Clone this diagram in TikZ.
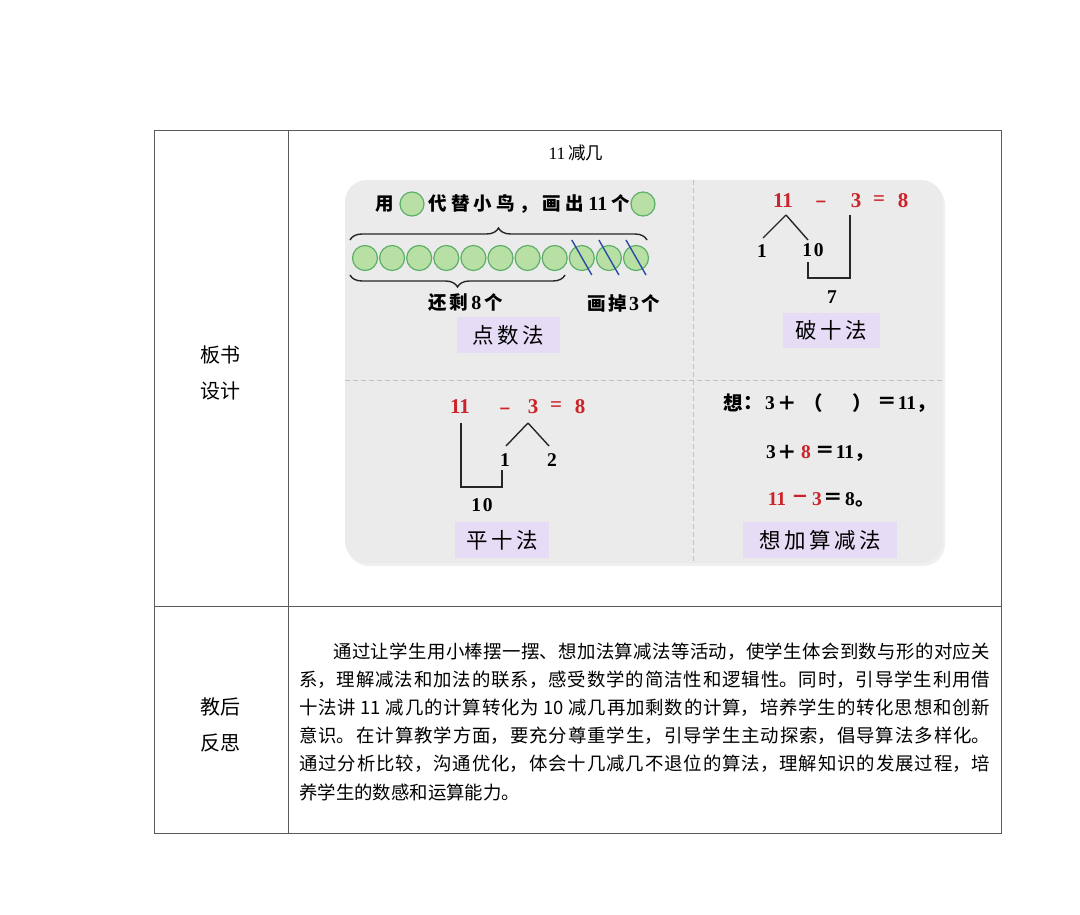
\documentclass[tikz,border=0pt]{standalone}
\usepackage{fontspec}
\setmainfont{Liberation Serif}
\newfontfamily\cjk{Noto Sans CJK SC}
\newfontfamily\dejavu{DejaVu Sans}
\usetikzlibrary{decorations.pathreplacing,calc}
\definecolor{tline}{HTML}{5A5A5A}
\definecolor{panel}{HTML}{EBEBEB}
\definecolor{dashc}{HTML}{C2C2C2}
\definecolor{lav}{HTML}{E6DCF5}
\definecolor{cfill}{HTML}{B9E0A4}
\definecolor{cdraw}{HTML}{5CAF68}
\definecolor{rednum}{HTML}{CC2229}
\definecolor{strike}{HTML}{2A4CA8}
\begin{document}
\begin{tikzpicture}[x=1pt,y=-1pt,
  lbl/.style={inner sep=0pt, font=\cjk\fontsize{20}{24}\selectfont},
  method/.style={fill=lav, inner sep=0pt, font=\cjk\fontsize{21.5}{24}\selectfont},
  num/.style={inner sep=0pt, font=\bfseries\fontsize{21}{24}\selectfont},
  snum/.style={inner sep=0pt, font=\bfseries\fontsize{19.5}{22}\selectfont},
  rnum/.style={num, text=rednum},
  rminus/.style={inner sep=0pt, anchor=base, text=rednum, font=\dejavu\bfseries\fontsize{14.5}{16}\selectfont},
  small/.style={inner sep=0pt, font=\cjk\bfseries\fontsize{18.5}{22}\selectfont},
  eqt/.style={inner sep=0pt, font=\bfseries\fontsize{19.5}{22}\selectfont},
  dot/.style={circle, draw=cdraw, fill=cfill, line width=1.2pt, minimum size=25pt, inner sep=0pt},
  stroke/.style={line width=1.4pt, black!85},
  brc/.style={line width=1.4pt, black!85, decorate, decoration={brace, amplitude=12pt}},
  tab/.style={draw=tline, line width=1pt}]
\useasboundingbox (0,0) rectangle (1080,915);
\fill[white] (0,0) rectangle (1080,915);
% table
\draw[tab] (154,131) rectangle (1001,833);
\draw[tab] (288,131) -- (288,833);
\draw[tab] (154,606) -- (1001,606);
\node[lbl] (l1) at (220,355) {板书};
\node[lbl] (l2) at (220,391) {设计};
\node[lbl] (l3) at (220,707) {教后};
\node[lbl] (l4) at (220,743) {反思};
% title
\node[inner sep=0pt, font=\fontsize{17.5}{20}\selectfont] (title) at (576,153) {11\,{\cjk 减几}};
% panel
\fill[black!6, rounded corners=22pt] (347,183) rectangle (945,566);
\fill[panel, rounded corners=22pt] (345,180) rectangle (943,563);
\draw[dashc, dash pattern=on 5pt off 3pt, line width=1pt] (693,180) -- (693,563);
\draw[dashc, dash pattern=on 5pt off 3pt, line width=1pt] (345,380) -- (943,380);
% --- quadrant 1
\node[small] (q1a) at (385,204) {用};
\node[dot, minimum size=24pt] (q1c1) at (412,204) {};
\node[small, anchor=west] (q1b) at (428,204) {\makebox[202pt]{代\hfill 替\hfill 小\hfill 鸟\hfill ，\hfill 画\hfill 出\hfill{\rmfamily\fontsize{20}{22}\selectfont 11}\hfill 个}};
\node[dot, minimum size=24pt] (q1c2) at (643,204) {};
\foreach \i in {0,...,10} {
  \node[dot] (c\i) at (365+27.1*\i,258) {};
}
\foreach \i in {8,9,10} {
  \draw[strike, line width=1.4pt] ($(c\i)+(-10,-18)$) coordinate (s\i a) -- ($(c\i)+(10,17)$) coordinate (s\i b);
}
\coordinate (b1l) at (350,240); \coordinate (b1r) at (647,240);
\draw[brc] (b1l) -- (b1r);
\coordinate (b2l) at (350,275); \coordinate (b2r) at (565,275);
\draw[brc] (b2r) -- (b2l);
\node[small] (rem) at (465.5,303) {\makebox[75pt]{还\hfill 剩\hfill{\rmfamily\fontsize{20}{22}\selectfont 8}\hfill 个}};
\node[small] (cut) at (623.5,303) {\makebox[73pt]{画\hfill 掉\hfill{\rmfamily\fontsize{20}{22}\selectfont 3}\hfill 个}};
\node[method, minimum width=103pt, minimum height=36pt] (m1) at (508.5,335) {点\,数\,法};
% --- quadrant 2
\node[rnum] (e11) at (783,201) {11};
\node[rminus] (em) at (821,207) {−};
\node[rnum] (e3) at (856,201) {3};
\node[rnum] (eq) at (879,201) {=};
\node[rnum] (e8) at (903,201) {8};
\coordinate (ap2) at (786,215);
\node[snum] (n1) at (762,251) {1};
\node[snum] (n10) at (813,250) {1\kern2pt0};
\draw[stroke] (ap2) -- (763,238);
\draw[stroke] (ap2) -- (808,240);
\draw[stroke] (808,262) -- (808,278) -- (850,278) -- (850,215);
\node[snum] (n7) at (832,297) {7};
\node[method, minimum width=97pt, minimum height=35pt] (m2) at (831.5,330.5) {破\,十\,法};
% --- quadrant 3
\node[rnum] (f11) at (460,407) {11};
\node[rminus] (fm) at (505,413) {−};
\node[rnum] (f3) at (533,407) {3};
\node[rnum] (feq) at (556,407) {=};
\node[rnum] (f8) at (580,407) {8};
\coordinate (ap3) at (528,423);
\draw[stroke] (ap3) -- (506,446);
\draw[stroke] (ap3) -- (549,446);
\node[snum] (g1) at (505,460) {1};
\node[snum] (g2) at (552,460) {2};
\draw[stroke] (461,423) -- (461,487) -- (502,487) -- (502,470);
\node[snum] (g10) at (482,505) {1\kern2pt0};
\node[method, minimum width=94pt, minimum height=36pt] (m3) at (502,540) {平\,十\,法};
% --- quadrant 4
\foreach \x/\t [count=\k] in {733/{\cjk 想}, 770/3, 787/{\cjk ＋}, 887/{\cjk ＝}, 907/11}
  \node[eqt] (ha\k) at (\x,403) {\t};
\node[eqt, anchor=west] (hap1) at (743,403) {\cjk ：};
\node[eqt, anchor=east] (hap2) at (823,403) {\cjk （};
\node[eqt, anchor=west] (hap3) at (852,403) {\cjk ）};
\node[eqt, anchor=base west] (hap4) at (916,409) {\cjk ，};
\foreach \x/\t [count=\k] in {771/3, 787/{\cjk ＋}, 806/\textcolor{rednum}{8}, 825/{\cjk ＝}, 845/11}
  \node[eqt] (hb\k) at (\x,452) {\t};
\node[eqt, anchor=base west] (hbp) at (854,458) {\cjk ，};
\foreach \x/\t [count=\k] in {777/\textcolor{rednum}{11}, 800/\textcolor{rednum}{\dejavu\bfseries −}, 817/\textcolor{rednum}{3}, 833/{\cjk ＝}, 850/8}
  \node[eqt] (hc\k) at (\x,499) {\t};
\node[eqt, anchor=base west] (hcp) at (855,505.5) {\cjk 。};
\node[method, minimum width=154pt, minimum height=36pt] (m4) at (820,540) {想\,加\,算\,减\,法};
% --- reflection text
\node[inner sep=0pt, anchor=base west] (refl) at (299,658) {\parbox[t]{691pt}{%
  \cjk\fontsize{18.4}{28.2}\selectfont
  \XeTeXlinebreaklocale "zh"\XeTeXlinebreakskip=0pt plus 3pt\relax
  \parindent=0pt\rightskip=0pt\parfillskip=0pt plus 1fil
  \hspace*{34pt}通过让学生用小棒摆一摆、想加法算减法等活动，使学生体会到数与形的对应关\linebreak
  系，理解减法和加法的联系，感受数学的简洁性和逻辑性。同时，引导学生利用借\linebreak
  十法讲 11 减几的计算转化为 10 减几再加剩数的计算，培养学生的转化思想和创新\linebreak
  意识。在计算教学方面，要充分尊重学生，引导学生主动探索，倡导算法多样化。\linebreak
  通过分析比较，沟通优化，体会十几减几不退位的算法，理解知识的发展过程，培\linebreak
  养学生的数感和运算能力。}};
\end{tikzpicture}
\end{document}
